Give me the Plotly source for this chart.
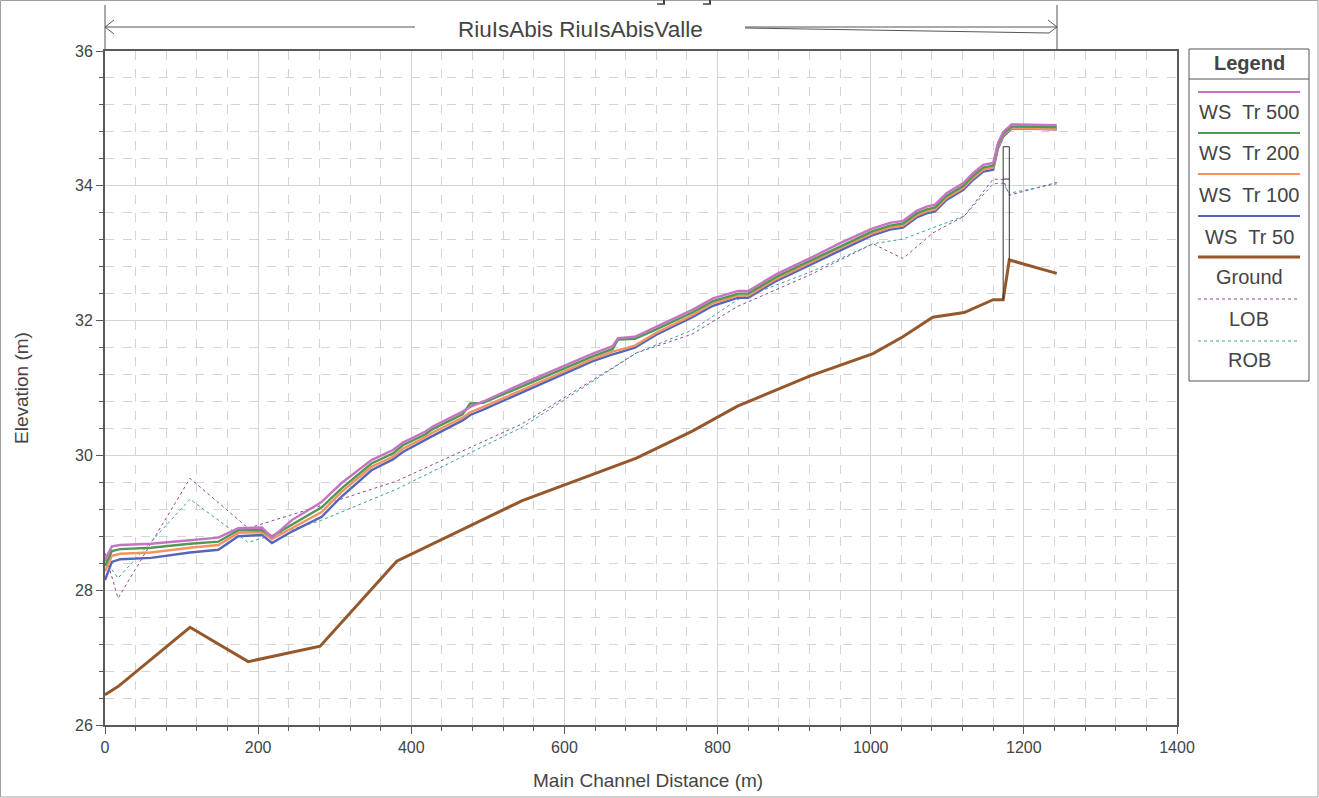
import plotly.graph_objects as go

# ---------------- data ----------------
ws_x = [0, 9, 20, 60, 111, 148, 174, 205, 218, 244, 283, 309, 348, 376, 389, 418, 428, 467, 477, 494,
        546, 581, 601, 637, 663, 670, 692, 720, 767, 794, 827, 840, 877, 925, 960, 1001, 1025, 1042,
        1060, 1073, 1084, 1099, 1121, 1134, 1147, 1160, 1166, 1173, 1184, 1243]

ws_tr500 = [28.45, 28.65, 28.67, 28.69, 28.74, 28.78, 28.92, 28.93, 28.78, 29.04, 29.31, 29.59, 29.93, 30.08,
            30.19, 30.35, 30.43, 30.65, 30.72, 30.80, 31.07, 31.24, 31.34, 31.51, 31.62, 31.74, 31.76, 31.91,
            32.16, 32.33, 32.44, 32.44, 32.69, 32.95, 33.15, 33.36, 33.45, 33.48, 33.63, 33.69, 33.72, 33.89,
            34.04, 34.19, 34.31, 34.34, 34.63, 34.80, 34.91, 34.90]

ws_tr200 = [28.36, 28.58, 28.61, 28.63, 28.69, 28.72, 28.89, 28.89, 28.80, 28.97, 29.23, 29.51, 29.88, 30.03,
            30.15, 30.31, 30.39, 30.61, 30.77, 30.78, 31.03, 31.20, 31.30, 31.47, 31.58, 31.72, 31.73, 31.87,
            32.12, 32.29, 32.40, 32.40, 32.65, 32.91, 33.11, 33.32, 33.41, 33.44, 33.59, 33.65, 33.68, 33.85,
            34.00, 34.15, 34.27, 34.30, 34.60, 34.77, 34.88, 34.87]

ws_tr100 = [28.28, 28.51, 28.54, 28.56, 28.63, 28.67, 28.85, 28.86, 28.76, 28.92, 29.16, 29.46, 29.83, 29.98,
            30.10, 30.27, 30.34, 30.56, 30.64, 30.72, 30.98, 31.16, 31.26, 31.43, 31.54, 31.56, 31.63, 31.82,
            32.08, 32.26, 32.37, 32.37, 32.62, 32.88, 33.08, 33.29, 33.38, 33.41, 33.56, 33.62, 33.65, 33.82,
            33.97, 34.12, 34.24, 34.27, 34.57, 34.75, 34.86, 34.84]

ws_tr50 = [28.15, 28.42, 28.46, 28.48, 28.56, 28.60, 28.80, 28.82, 28.70, 28.87, 29.09, 29.39, 29.78, 29.94,
           30.05, 30.22, 30.29, 30.52, 30.60, 30.68, 30.94, 31.12, 31.22, 31.40, 31.50, 31.52, 31.60, 31.79,
           32.05, 32.22, 32.34, 32.34, 32.59, 32.85, 33.05, 33.26, 33.35, 33.38, 33.53, 33.59, 33.62, 33.79,
           33.94, 34.09, 34.21, 34.24, 34.55, 34.73, 34.85, 34.84]

xs_x = [0, 17, 111, 187, 281, 381, 545, 694, 767, 826, 921, 1003, 1042, 1081, 1122, 1160, 1173, 1181, 1243]
ground = [26.45, 26.57, 27.45, 26.94, 27.17, 28.43, 29.33, 29.96, 30.36, 30.73, 31.18, 31.51, 31.76, 32.05,
          32.12, 32.31, 32.31, 32.90, 32.70]
lob = [28.55, 27.88, 29.66, 28.92, 29.25, 29.62, 30.47, 31.52, 31.80, 32.21, 32.68, 33.14, 32.92, 33.30,
       33.55, 34.10, 34.09, 33.86, 34.05]
rob = [28.45, 28.18, 29.35, 28.71, 29.03, 29.50, 30.42, 31.52, 31.86, 32.31, 32.72, 33.14, 33.21, 33.38,
       33.55, 34.03, 34.04, 33.89, 34.03]

bridge_us_idx = 16      # cross-section index of upstream bridge face
bridge_ds_idx = 17      # cross-section index of downstream bridge face
bridge_high_chord = 34.58
bridge_low_chord = 34.10

reach_label = "RiuIsAbis RiuIsAbisValle"
x_title = "Main Channel Distance (m)"
y_title = "Elevation (m)"
legend_title = "Legend"

# ---------------- styles ----------------
FONT = "Liberation Sans, Arial, sans-serif"
TXT = "#444444"
C500, C200, C100, C50 = "#c772c4", "#4e9a52", "#f6925f", "#5565b9"
CGR, CLOB, CROB = "#94582c", "#93449f", "#3e9d9d"

W, H = 1319, 798
L, R, T, B = 105, 1177, 51, 725


def px(x):
    return (x - L) / (R - L)


def py(y):
    return (B - y) / (B - T)


fig = go.Figure()

fig.add_trace(go.Scatter(x=xs_x, y=lob, mode="lines", line=dict(color=CLOB, width=1, dash="dot")))
fig.add_trace(go.Scatter(x=xs_x, y=rob, mode="lines", line=dict(color=CROB, width=1, dash="dot")))
fig.add_trace(go.Scatter(x=xs_x, y=ground, mode="lines", line=dict(color=CGR, width=3)))

# bridge outline
bx0, bx1 = xs_x[bridge_us_idx], xs_x[bridge_ds_idx]
fig.add_trace(go.Scatter(
    x=[bx0, bx0, bx1, bx1],
    y=[ground[bridge_us_idx], bridge_high_chord, bridge_high_chord, ground[bridge_ds_idx]],
    mode="lines", line=dict(color="#333333", width=1)))
fig.add_trace(go.Scatter(x=[bx0, bx1], y=[bridge_low_chord, bridge_low_chord], mode="lines",
                         line=dict(color="#333333", width=1)))

fig.add_trace(go.Scatter(x=ws_x, y=ws_tr50, mode="lines", line=dict(color=C50, width=2.4)))
fig.add_trace(go.Scatter(x=ws_x, y=ws_tr100, mode="lines", line=dict(color=C100, width=2.4)))
fig.add_trace(go.Scatter(x=ws_x, y=ws_tr200, mode="lines", line=dict(color=C200, width=2.4)))
fig.add_trace(go.Scatter(x=ws_x, y=ws_tr500, mode="lines", line=dict(color=C500, width=2.4)))

grid = "#d4d4d4"
axis_common = dict(
    showline=True, linecolor="#5a5a5a", linewidth=2, mirror=True,
    ticks="outside", ticklen=7, tickcolor="#5a5a5a", tickwidth=1,
    showgrid=True, gridcolor=grid, gridwidth=1, zeroline=False,
    tickfont=dict(family=FONT, size=16, color=TXT),
)

fig.update_xaxes(range=[0, 1400], dtick=200, tick0=0,
                 minor=dict(dtick=40, ticks="outside", ticklen=4, tickcolor="#5a5a5a",
                            showgrid=True, gridcolor=grid, griddash="dash"),
                 **axis_common)
fig.update_yaxes(range=[26, 36], dtick=2, tick0=26,
                 minor=dict(dtick=0.4, ticks="outside", ticklen=4, tickcolor="#5a5a5a",
                            showgrid=True, gridcolor=grid, griddash="dash"),
                 **axis_common)

shapes = []
anns = []

# outer frame
shapes.append(dict(type="rect", xref="paper", yref="paper", x0=px(0.5), x1=px(W - 1), y0=py(H - 1), y1=py(0.5),
                   line=dict(color="#a0a0a0", width=1)))

# reach bracket on top
arrow_col = "#555555"
for (x0, y0, x1, y1) in [
    (L, 5, L, T),            # left vertical
    (1057, 5, 1057, T),      # right vertical
    (L, 27, 415, 27),        # left arrow shaft
    (L, 27, 114, 20), (L, 27, 114, 34),
    (745, 27, 1057, 27),     # right arrow shaft
    (745, 28, 1049, 33),
    (1057, 27, 1048, 20), (1057, 27, 1049, 33),
]:
    shapes.append(dict(type="line", xref="paper", yref="paper", x0=px(x0), y0=py(y0), x1=px(x1), y1=py(y1),
                       line=dict(color=arrow_col, width=1)))

# small clipped marks at the very top
for (x0, x1) in [(657, 665), (703, 711)]:
    shapes.append(dict(type="rect", xref="paper", yref="paper", x0=px(x1 - 2), x1=px(x1), y0=py(4), y1=py(0),
                       line=dict(width=0), fillcolor="#444444"))
    shapes.append(dict(type="line", xref="paper", yref="paper", x0=px(x0), x1=px(x1), y0=py(4), y1=py(4),
                       line=dict(color="#444444", width=1.5)))

anns.append(dict(text=reach_label, xref="paper", yref="paper", x=px(580), y=py(30), showarrow=False,
                 font=dict(family=FONT, size=22.5, color=TXT), xanchor="center", yanchor="middle"))

# axis titles
anns.append(dict(text=x_title, xref="paper", yref="paper", x=px(648), y=py(780), showarrow=False,
                 font=dict(family=FONT, size=19, color=TXT), xanchor="center", yanchor="middle"))
anns.append(dict(text=y_title, xref="paper", yref="paper", x=px(21), y=py(388), showarrow=False, textangle=-90,
                 font=dict(family=FONT, size=19, color=TXT), xanchor="center", yanchor="middle"))

# custom legend box
LX0, LX1, LY0, LY1 = 1189, 1309, 49, 381
shapes.append(dict(type="rect", xref="paper", yref="paper", x0=px(LX0), x1=px(LX1), y0=py(LY1), y1=py(LY0),
                   line=dict(color="#555555", width=1), fillcolor="white"))
shapes.append(dict(type="line", xref="paper", yref="paper", x0=px(LX0), x1=px(LX1), y0=py(79), y1=py(79),
                   line=dict(color="#555555", width=1)))
anns.append(dict(text="<b>" + legend_title + "</b>", xref="paper", yref="paper", x=px(1249), y=py(63),
                 showarrow=False, font=dict(family=FONT, size=20, color=TXT), xanchor="center", yanchor="middle"))

legend_items = [
    ("WS\u00a0\u00a0Tr 500", C500, 2, "solid"),
    ("WS\u00a0\u00a0Tr 200", C200, 2, "solid"),
    ("WS\u00a0\u00a0Tr 100", C100, 2, "solid"),
    ("WS\u00a0\u00a0Tr 50", C50, 2, "solid"),
    ("Ground", CGR, 3, "solid"),
    ("LOB", CLOB, 1, "dot"),
    ("ROB", CROB, 1, "dot"),
]
line_y = [92, 133, 174, 216, 257, 299, 341]
text_y = [112, 153, 195, 237, 277, 319, 360]
for (name, col, w, dash), ly, ty in zip(legend_items, line_y, text_y):
    shapes.append(dict(type="line", xref="paper", yref="paper", x0=px(1198), x1=px(1300), y0=py(ly), y1=py(ly),
                       line=dict(color=col, width=w, dash=dash)))
    anns.append(dict(text=name, xref="paper", yref="paper", x=px(1249), y=py(ty), showarrow=False,
                     font=dict(family=FONT, size=20, color=TXT), xanchor="center", yanchor="middle"))

fig.update_layout(
    width=W, height=H, autosize=False,
    margin=dict(l=L, r=W - R, t=T, b=H - B, pad=0),
    paper_bgcolor="white", plot_bgcolor="white",
    showlegend=False,
    shapes=shapes, annotations=anns,
    font=dict(family=FONT, color=TXT),
)

fig.write_html("out.html", config={"displayModeBar": False},
               post_script="document.body.style.margin='0';document.body.style.overflow='hidden';")
